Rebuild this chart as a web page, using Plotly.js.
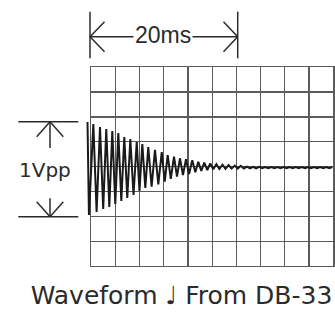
<!DOCTYPE html>
<html>
<head>
<meta charset="utf-8">
<script src="https://cdn.plot.ly/plotly-3.0.1.min.js"></script>
<style>html,body{margin:0;padding:0;background:#fff;}#chart{width:335px;height:313px;}</style>
</head>
<body>
<div id="chart"></div>
<script>
// ---- Data ----
// Alternating extremes (top, bottom, top, ...) of the decaying waveform
const timeMs = [
  -0.48, -0.28, 0.32, 0.77, 1.24, 1.68, 2.10, 2.52, 2.93, 3.34,
  3.76, 4.17, 4.58, 4.99, 5.41, 5.85, 6.29, 6.67, 7.06, 7.47,
  7.88, 8.34, 8.80, 9.26, 9.73, 10.14, 10.55, 10.98, 11.42, 11.83,
  12.24, 12.65, 13.07, 13.49, 13.93, 14.35, 14.76, 15.17, 15.58, 16.00,
  16.41, 16.82, 17.25, 17.66, 18.09, 18.50, 18.93, 19.34, 19.77, 20.18,
  20.61, 21.02, 21.45, 21.87, 22.29, 22.71, 23.13, 23.55, 23.97, 24.39,
  24.81, 25.23, 25.65, 26.07, 26.49, 26.91, 27.33, 27.75, 28.17, 28.59,
  29.01, 29.43, 29.85, 30.27, 30.69, 31.11, 31.53, 31.95, 32.37, 32.79,
  33.21
];
const volts = [
  0.449, -0.487, 0.429, -0.456, 0.399, -0.426, 0.379, -0.406, 0.359, -0.376,
  0.339, -0.346, 0.299, -0.316, 0.278, -0.285, 0.248, -0.245, 0.228, -0.215,
  0.198, -0.202, 0.168, -0.178, 0.147, -0.152, 0.117, -0.124, 0.100, -0.101,
  0.084, -0.084, 0.074, -0.074, 0.064, -0.057, 0.050, -0.044, 0.040, -0.034,
  0.032, -0.027, 0.025, -0.024, 0.019, -0.022, 0.015, -0.020, 0.011, -0.019,
  0.008, -0.018, 0.000, -0.017, -0.002, -0.017, -0.003, -0.016, -0.004, -0.016,
  -0.004, -0.016, -0.005, -0.016, -0.005, -0.016, -0.005, -0.016, -0.005, -0.016,
  -0.005, -0.016, -0.005, -0.016, -0.005, -0.016, -0.005, -0.016, -0.005, -0.016,
  -0.005
];
// Axis settings
const xMaxMs = 100 / 3;          // 10 divisions
const xDivMs = 10 / 3;
const yMinV = -1, yMaxV = 1, yDivV = 0.25;
// Texts
const spanLabel = "20ms";
const spanMs = 20;
const ampLabel = "1Vpp";
const titleText = "Waveform \u2669 From DB-33";

// ---- Layout (pixel geometry) ----
const W = 335, H = 313;
const gridL = 91, gridR = 333.3, gridT = 67.3, gridB = 266;
const pxPerMs = (gridR - gridL) / xMaxMs;
const waveL = 84;
const px = x => x / W;
const py = y => 1 - y / H;

const ink = '#2b2b2b';
const gridCol = '#5c5c5c';

const traces = [
  {x: [], y: [], xaxis: 'x', yaxis: 'y', type: 'scatter', mode: 'lines',
   hoverinfo: 'skip', showlegend: false},
  {x: timeMs, y: volts, xaxis: 'x2', yaxis: 'y2', type: 'scatter', mode: 'lines',
   line: {color: '#1a1a1a', width: 2.0}, hoverinfo: 'skip', showlegend: false}
];

const ln = (x0, y0, x1, y1) => ({type: 'line', xref: 'paper', yref: 'paper',
  x0: px(x0), y0: py(y0), x1: px(x1), y1: py(y1), line: {color: ink, width: 1.5}});

const shapes = [
  // 20ms bracket
  ln(90, 11.7, 90, 58.3),
  ln(237.7, 11.7, 237.7, 58.3),
  ln(90, 36.7, 237.7, 36.7),
  ln(90, 36.7, 104.5, 21.7), ln(90, 36.7, 104.5, 51.7),
  ln(237.7, 36.7, 223.5, 21.7), ln(237.7, 36.7, 223.5, 51.7),
  // 1Vpp markers
  ln(18.3, 121.7, 78.3, 121.7),
  ln(50, 121.7, 50, 148),
  ln(50, 121.7, 36.7, 136.7), ln(50, 121.7, 63.3, 136.7),
  ln(18.3, 216.7, 78.3, 216.7),
  ln(50, 198.3, 50, 216.7),
  ln(50, 216.7, 36.7, 201.7), ln(50, 216.7, 63.3, 201.7)
];

const annotations = [
  {text: spanLabel, xref: 'paper', yref: 'paper', x: px(162.7), y: py(35.5),
   xanchor: 'center', yanchor: 'middle', showarrow: false,
   bgcolor: '#ffffff', borderpad: 1,
   font: {family: 'Liberation Sans, Arial, sans-serif', size: 23, color: ink}},
  {text: ampLabel, xref: 'paper', yref: 'paper', x: px(45), y: py(170),
   xanchor: 'center', yanchor: 'middle', showarrow: false,
   font: {family: 'DejaVu Sans, sans-serif', size: 20, color: ink}}
];

const gridAxis = {
  showgrid: true, gridcolor: gridCol, gridwidth: 1.3,
  showline: true, linecolor: gridCol, linewidth: 1.3, mirror: true,
  zeroline: false, showticklabels: false, ticks: '', fixedrange: true
};

const layout = {
  width: W, height: H,
  margin: {l: 0, r: 0, t: 0, b: 0},
  paper_bgcolor: '#ffffff', plot_bgcolor: 'rgba(0,0,0,0)',
  showlegend: false,
  title: {text: titleText, x: px(181.5), xanchor: 'center', xref: 'paper',
          y: py(295.5), yanchor: 'middle', yref: 'paper',
          font: {family: 'DejaVu Sans, sans-serif', size: 25, color: ink}},
  xaxis: Object.assign({}, gridAxis, {domain: [px(gridL), px(gridR)], range: [0, xMaxMs],
          tick0: 0, dtick: xDivMs, anchor: 'y'}),
  yaxis: Object.assign({}, gridAxis, {domain: [py(gridB), py(gridT)], range: [yMinV, yMaxV],
          tick0: 0, dtick: yDivV, anchor: 'x'}),
  xaxis2: {domain: [px(waveL), px(gridR)],
           range: [-(gridL - waveL) / pxPerMs, xMaxMs], visible: false, anchor: 'y2', fixedrange: true},
  yaxis2: {domain: [py(gridB), py(gridT)], range: [yMinV, yMaxV], visible: false, anchor: 'x2', fixedrange: true},
  shapes: shapes,
  annotations: annotations
};

Plotly.newPlot('chart', traces, layout, {staticPlot: true, displayModeBar: false});
</script>
</body>
</html>
